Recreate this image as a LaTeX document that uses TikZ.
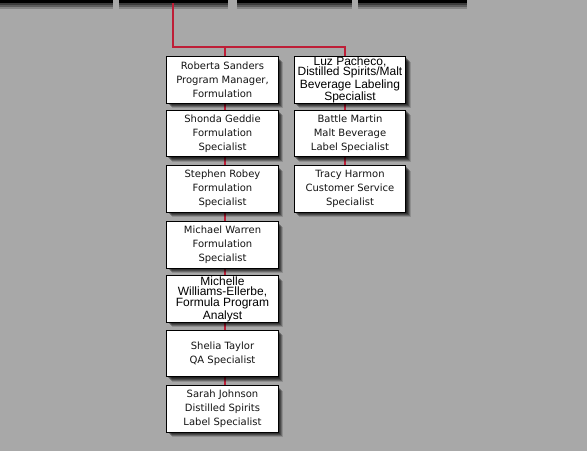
\documentclass[tikz,border=0pt]{standalone}
\usepackage{fontspec}
\usetikzlibrary{shadows}
\newfontfamily\verd{DejaVu Sans}
\newfontfamily\arl{Liberation Sans}
\definecolor{bg}{RGB}{168,168,168}
\definecolor{linkred}{RGB}{190,30,55}
\definecolor{txt}{RGB}{20,20,20}
\tikzset{
  softshadow/.style={
    general shadow={fill=black, opacity=0.30, shadow xshift=0.75pt, shadow yshift=-0.75pt},
    general shadow={fill=black, opacity=0.30, shadow xshift=1.5pt, shadow yshift=-1.5pt},
    general shadow={fill=black, opacity=0.30, shadow xshift=2.25pt, shadow yshift=-2.25pt},
    general shadow={fill=black, opacity=0.25, shadow xshift=3pt, shadow yshift=-3pt},
    general shadow={fill=black, opacity=0.15, shadow xshift=3.75pt, shadow yshift=-3.75pt}},
  barshadow/.style={
    general shadow={fill=black, opacity=0.35, shadow xshift=0pt, shadow yshift=-1.5pt},
    general shadow={fill=black, opacity=0.30, shadow xshift=0pt, shadow yshift=-3pt},
    general shadow={fill=black, opacity=0.20, shadow xshift=0pt, shadow yshift=-4.5pt}},
  box/.style={draw=black, line width=0.75pt, fill=white, minimum width=83.5pt, minimum height=35pt,
    inner sep=0pt, align=center, text=txt, softshadow,
    font=\verd\fontsize{7.5}{10.5}\selectfont},
  narrowbox/.style={box, text=black, font=\arl\fontsize{9}{8}\selectfont},
  bar/.style={fill=black, draw=none, inner sep=0pt, barshadow},
  link/.style={draw=linkred, line width=1.5pt}
}
\begin{document}
\begin{tikzpicture}[x=0.75pt,y=-0.75pt]
\fill[bg] (0,0) rectangle (587,451);
\useasboundingbox (0,0) rectangle (587,451);
% top bars
\node[bar, minimum width=84.75pt, minimum height=7.5pt] (b1) at (56.5,-2) {};
\node[bar, minimum width=81.75pt, minimum height=7.5pt] (b2) at (173,-2) {};
\node[bar, minimum width=86.25pt, minimum height=7.5pt] (b3) at (294.5,-2) {};
\node[bar, minimum width=81.75pt, minimum height=7.5pt] (b4) at (412.5,-2) {};
% junctions
\coordinate (hub) at (173,47);
\coordinate (jl) at (225,47);
\coordinate (jr) at (345,47);
% box positions
\path (222.5,80) coordinate (pl1) (222.5,133.5) coordinate (pl2) (222.5,189) coordinate (pl3)
      (222.5,245) coordinate (pl4) (222.5,299) coordinate (pl5) (222.5,353.5) coordinate (pl6)
      (222.5,409) coordinate (pl7)
      (350,80) coordinate (pr1) (350,133.5) coordinate (pr2) (350,189) coordinate (pr3);
% connectors
\draw[link] (b2.south) -- (hub) -- (jr) -- (jr |- pr1);
\draw[link] (jl) -- (jl |- pl1);
\draw[link] (jl |- pl1) -- (jl |- pl7);
\draw[link] (jr |- pr1) -- (jr |- pr3);
% left column
\node[box] (l1) at (pl1) {Roberta Sanders\\Program Manager,\\Formulation};
\node[box] (l2) at (pl2) {Shonda Geddie\\Formulation\\Specialist};
\node[box] (l3) at (pl3) {Stephen Robey\\Formulation\\Specialist};
\node[box] (l4) at (pl4) {Michael Warren\\Formulation\\Specialist};
\node[narrowbox] (l5) at (pl5) {Michelle\\Williams-Ellerbe,\\Formula Program\\Analyst};
\node[box] (l6) at (pl6) {Shelia Taylor\\QA Specialist};
\node[box] (l7) at (pl7) {Sarah Johnson\\Distilled Spirits\\Label Specialist};
% right column
\node[narrowbox] (r1) at (pr1) {Luz Pacheco,\\Distilled Spirits/Malt\\Beverage Labeling\\Specialist};
\node[box] (r2) at (pr2) {Battle Martin\\Malt Beverage\\Label Specialist};
\node[box] (r3) at (pr3) {Tracy Harmon\\Customer Service\\Specialist};
\end{tikzpicture}
\end{document}
